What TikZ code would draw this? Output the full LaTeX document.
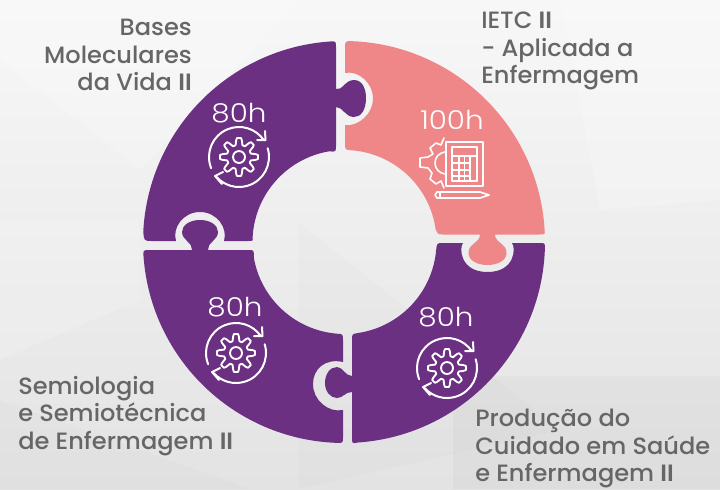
\documentclass[tikz,border=0pt]{standalone}
\usepackage{fontspec}
\setmainfont[FakeStretch=1.02,BoldFont={Poppins SemiBold}]{Poppins Medium}
\newfontfamily\lightfont[FakeStretch=1.13]{Poppins Light}
\usetikzlibrary{calc}
\definecolor{plum}{HTML}{6C3082}
\definecolor{salmon}{HTML}{EF8688}
\definecolor{labelgray}{HTML}{666666}
\newcommand{\RomanII}{\textbf{II}}
\tikzset{
  x=0.75pt,y=-0.75pt,
  declare function={gearr(\a)=15.6+3.4*min(1,max(-1,1.7*cos(8*\a)));},
  piece/.style={fill=plum,draw=none},
  hours/.style={text=white,font=\lightfont\fontsize{19.5}{20}\selectfont,inner sep=0,anchor=center},
  lbl/.style={text=labelgray,font=\fontsize{17.7}{20.5}\selectfont,inner sep=0},
  iconline/.style={draw=white,line width=1.5pt,line cap=round,line join=round},
  cyclegear/.pic={
    \draw[iconline,line width=1.4pt] (0,0) circle[radius=6];
    \draw[iconline,line width=1.4pt,smooth] plot[domain=0:360,samples=121] ({gearr(\x)*cos(\x)},{gearr(\x)*sin(\x)}) -- cycle;
    \draw[iconline] (158:30) arc[start angle=158,end angle=326,radius=30];
    \draw[iconline] (18,-17) -- (26.5,-17) -- (26,-26);
    \draw[iconline] (-17:30) arc[start angle=-17,end angle=138,radius=30];
    \draw[iconline] (-16,15) -- (-24,19) -- (-17,27);
  }
}
\begin{document}
\begin{tikzpicture}
\useasboundingbox (0,0) rectangle (720,489);
\shade[top color=black!3,bottom color=black!11] (0,0) rectangle (720,489);
% background facets
\fill[white,opacity=.2] (0,0) -- (300,0) -- (140,170) -- (0,60) -- cycle;
\fill[white,opacity=.2] (560,0) -- (720,0) -- (720,200) -- (600,210) -- cycle;
\fill[black,opacity=.012] (298,222) -- (560,430) -- (298,489) -- cycle;
\fill[black,opacity=.025] (453,376) rectangle (720,489);
\fill[black,opacity=.012] (0,400) -- (250,489) -- (0,489) -- cycle;
\fill[white,opacity=.15] (0,220) -- (140,220) -- (140,300) -- (0,360) -- cycle;
\coordinate (c) at (344,242);
\coordinate (h) at (344.5,242);
% top-left piece
\path[piece] ($(c)+(183:201)$) arc[start angle=183,end angle=266,radius=201]
  .. controls (336,41) .. (336,48) -- (336,89)
  .. controls (342,91) and (345,80) .. (354,80)
  .. controls (362,80) and (366,88) .. (366,98)
  .. controls (366,110) and (361,117) .. (354,117)
  .. controls (345,117) and (343,107) .. (336,107)
  -- (336,145) .. controls (336,152) .. ($(h)+(260.5:92)$)
  arc[start angle=260.5,end angle=183,radius=92]
  .. controls (253,241) .. (248,241) -- (224,241)
  .. controls (228,228) and (217,212) .. (200,212)
  .. controls (183,212) and (172,228) .. (176,241)
  -- (152,241) .. controls (144,241) .. cycle;
% pink piece
\path[fill=salmon] (345,49) .. controls (345,41) .. ($(c)+(272.3:201)$)
  arc[start angle=272.3,end angle=356.6,radius=201]
  .. controls (545,234.5) .. (539,234.5) -- (495,234.5)
  .. controls (495,243) and (506.5,243) .. (506.5,253)
  .. controls (506.5,261) and (497,265) .. (487.5,265)
  .. controls (478,265) and (468.5,261) .. (468.5,253)
  .. controls (468.5,243) and (480,243) .. (480,234.5)
  -- (443,234.5) .. controls (438,234.5) .. ($(h)+(352:92)$)
  arc[start angle=352,end angle=275,radius=92]
  .. controls (345,150) .. (345,143) -- (345,125)
  .. controls (357,127) and (373,115) .. (373,98)
  .. controls (373,83) and (358,70) .. (345,73) -- cycle;
% bottom-right piece
\path[piece] (540,243) .. controls (545,243) .. ($(c)+(2:201)$)
  arc[start angle=2,end angle=86,radius=201]
  .. controls (352,443.7) .. (352,437) -- (352,392)
  .. controls (345,392) and (343,398) .. (337,398)
  .. controls (330,398) and (325,391) .. (325,383)
  .. controls (325,374) and (330,367) .. (337,367)
  .. controls (343,367) and (345,376) .. (352,376)
  -- (352,340) .. controls (352,334) .. ($(h)+(81.5:92)$)
  arc[start angle=81.5,end angle=5,radius=92]
  .. controls (437,243) .. (443,243) -- (463,243)
  .. controls (459,248) and (460,272) .. (487.5,272)
  .. controls (515,272) and (516,248) .. (512,243) -- cycle;
% bottom-left piece
\path[piece] (343,437) .. controls (343,443) .. ($(c)+(92:201)$)
  arc[start angle=92,end angle=175.5,radius=201]
  .. controls (143,250) .. (149,250) -- (192,250)
  .. controls (193,243) and (182,240) .. (182,232)
  .. controls (182,225) and (190,220) .. (200,220)
  .. controls (210,220) and (218,225) .. (218,232)
  .. controls (218,240) and (207,243) .. (208,250)
  -- (248,250) .. controls (254,250) .. ($(h)+(170.5:92)$)
  arc[start angle=170.5,end angle=94.7,radius=92]
  .. controls (343,334) .. (343,341) -- (343,362)
  .. controls (325,358) and (313,369) .. (313,384)
  .. controls (313,400) and (328,413) .. (343,410) -- cycle;
% hours
\node[hours] (h1) at (239,113) {80h};
\node[hours] (h2) at (452,120) {100h};
\node[hours] (h3) at (235,307) {80h};
\node[hours] (h4) at (446,317) {80h};
% cycle gears
\pic at (239,157) {cyclegear};
\pic at (236,353) {cyclegear};
\pic at (447,368) {cyclegear};
% calculator icon
\begin{scope}
\draw[iconline,line cap=butt] (446,142) rectangle (483,186);
\draw[iconline,line width=1.1pt] (452,147) rectangle (477,181);
\draw[iconline,line width=1.1pt] (452,156) -- (477,156);
\foreach \yy in {163,170,176} \draw[white,line width=1.1pt] (452,\yy) -- (470,\yy);
\foreach \xx in {459,464.5,470} \draw[white,line width=1.1pt] (\xx,156) -- (\xx,181);
\draw[iconline,line width=1.2pt] (444,138) -- (441,145) -- (436,143) -- (430,148) -- (433,154) -- (428,157) -- (420,158) -- (420,167) -- (428,168) -- (432,173) -- (430,179) -- (436,184) -- (441,181) -- (444,188);
\draw[iconline,line width=1.2pt] (445,152) arc[start angle=-95,end angle=-265,radius=11];
\draw[iconline,line width=1.2pt] (437,192) -- (480,192) -- (489,195) -- (480,198) -- (437,198) -- (435,195) -- cycle;
\draw[white,line width=1.1pt] (440,192) -- (440,198);
\end{scope}
% labels
\node[lbl,align=right,anchor=north east] (l1) at (192,19) {Bases\\Moleculares\\da Vida \RomanII};
\node[lbl,align=left,anchor=north west] (l2) at (481,12) {IETC \RomanII\\- Aplicada a\\Enfermagem};
\node[lbl,align=left,anchor=north west] (l3) at (18,376) {Semiologia\\e Semiotécnica\\de Enfermagem \RomanII};
\node[lbl,align=left,anchor=north west] (l4) at (475,409) {Produção do\\Cuidado em Saúde\\e Enfermagem \RomanII};
\end{tikzpicture}
\end{document}
